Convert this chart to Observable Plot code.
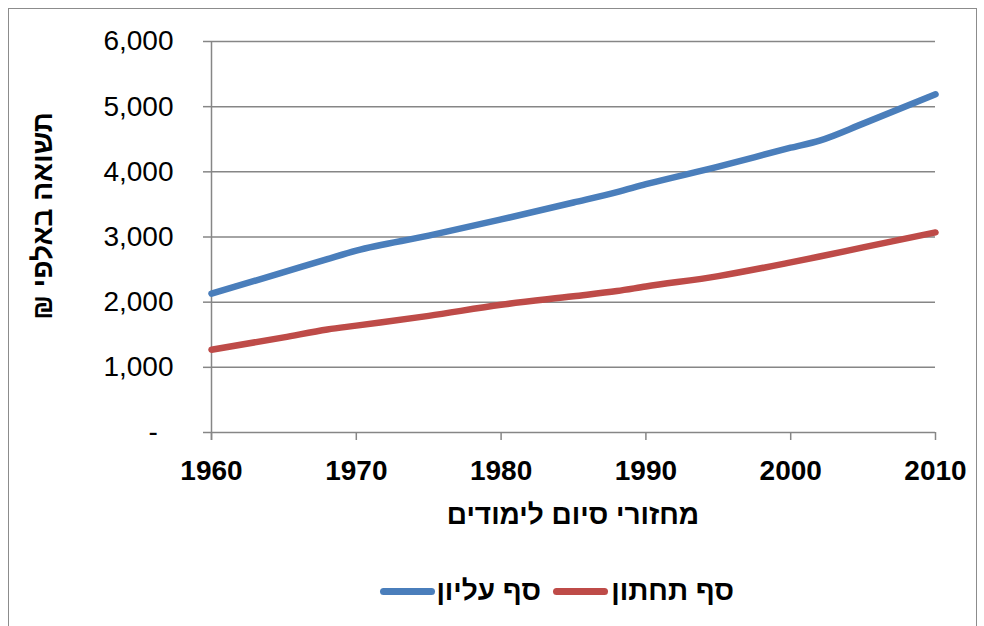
<!DOCTYPE html>
<html lang="he">
<head>
<meta charset="utf-8">
<script src="https://cdn.jsdelivr.net/npm/d3@7"></script>
<script src="https://cdn.jsdelivr.net/npm/@observablehq/plot@0.6"></script>
<style>
  html, body { margin: 0; padding: 0; background: #fff; }
  #wrap { position: relative; width: 984px; height: 626px; overflow: hidden; font-family: "Liberation Sans", "DejaVu Sans", sans-serif; }
  #frame { position: absolute; left: 8px; top: 8px; width: 969px; height: 640px; border: 1.5px solid #8c8c8c; box-sizing: border-box; }
  #chart { position: absolute; left: 0; top: 0; }
  .lg-line { position: absolute; height: 7px; border-radius: 4px; }
  .lg-text { position: absolute; font-weight: bold; font-size: 28px; direction: rtl; white-space: nowrap; line-height: 1; color: #000; }
</style>
</head>
<body>
<div id="wrap">
  <div id="frame"></div>
  <div id="chart"></div>
</div>
<script>
// ---- data ----
const years = [1960, 1965, 1968, 1970, 1975, 1980, 1985, 1988, 1990, 1995, 2000, 2002, 2005, 2010];
const upper = [2130, 2460, 2660, 2790, 3020, 3270, 3530, 3690, 3810, 4080, 4370, 4480, 4740, 5190];
const lower = [1270, 1460, 1580, 1640, 1790, 1960, 2090, 2170, 2240, 2400, 2610, 2700, 2840, 3070];
const seriesNames = ["סף עליון", "סף תחתון"];
const seriesColors = ["#4a7ebb", "#be4b48"];
const xTicks = [1960, 1970, 1980, 1990, 2000, 2010];
const yTicks = [0, 1000, 2000, 3000, 4000, 5000, 6000];
const xTitle = "מחזורי סיום לימודים";
const yTitle = "תשואה באלפי ₪";

const rows = [];
years.forEach((y, i) => {
  rows.push({year: y, value: upper[i], series: seriesNames[0]});
  rows.push({year: y, value: lower[i], series: seriesNames[1]});
});

const grey = "#868686";
const fmt = d3.format(",");

const plot = Plot.plot({
  width: 984,
  height: 626,
  marginLeft: 211,
  marginRight: 49,
  marginTop: 41,
  marginBottom: 194,
  style: {fontFamily: "'Liberation Sans', 'DejaVu Sans', sans-serif", fontSize: "28px", color: "#000", background: "transparent", overflow: "visible"},
  x: {domain: [1960, 2010]},
  y: {domain: [0, 6000]},
  color: {domain: seriesNames, range: seriesColors},
  marks: [
    Plot.gridY(yTicks, {stroke: grey, strokeOpacity: 1, strokeWidth: 1.5}),
    Plot.ruleX([1960], {stroke: grey, strokeWidth: 1.5, insetBottom: -8}),
    Plot.axisY(yTicks, {
      tickSize: 8, tickPadding: 30, stroke: grey, strokeWidth: 1.5, label: null,
      tickFormat: d => d === 0 ? "-\u2007" : fmt(d), fill: "#000"
    }),
    Plot.axisX(xTicks, {
      tickSize: 8, tickPadding: 20, stroke: grey, strokeWidth: 1.5, label: null,
      tickFormat: d => String(d), fontWeight: "bold", fill: "#000"
    }),
    Plot.line(rows, {
      x: "year", y: "value", z: "series", stroke: "series",
      strokeWidth: 6.5, curve: "monotone-x", strokeLinecap: "round", strokeLinejoin: "round"
    })
  ]
});
document.getElementById("chart").appendChild(plot);

const svg = d3.select(plot);
svg.append("text")
  .attr("x", 573).attr("y", 517)
  .attr("direction", "rtl")
  .attr("text-anchor", "middle").attr("dominant-baseline", "middle")
  .attr("font-weight", "bold").attr("font-size", 28).attr("fill", "#000")
  .text(xTitle);
svg.append("text")
  .attr("transform", "translate(45,216) rotate(-90)")
  .attr("direction", "rtl")
  .attr("text-anchor", "middle").attr("dominant-baseline", "middle")
  .attr("font-weight", "bold").attr("font-size", 28).attr("fill", "#000")
  .text(yTitle);

// ---- legend (HTML, below the plot area) ----
const wrap = document.getElementById("wrap");
const legendItems = [
  {name: seriesNames[0], color: seriesColors[0], lineLeft: 380, textRight: 541},
  {name: seriesNames[1], color: seriesColors[1], lineLeft: 553, textRight: 734}
];
legendItems.forEach(it => {
  const ln = document.createElement("div");
  ln.className = "lg-line";
  ln.style.left = it.lineLeft + "px";
  ln.style.width = "55px";
  ln.style.top = "588px";
  ln.style.background = it.color;
  wrap.appendChild(ln);
  const tx = document.createElement("div");
  tx.className = "lg-text";
  tx.style.right = (984 - it.textRight) + "px";
  tx.style.top = "577px";
  tx.textContent = it.name;
  wrap.appendChild(tx);
});
</script>
</body>
</html>
